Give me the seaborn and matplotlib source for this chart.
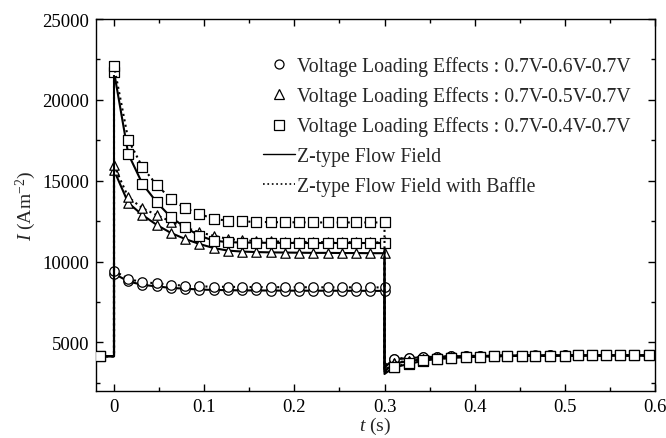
import numpy as np
import pandas as pd
import matplotlib
matplotlib.use("Agg")
import matplotlib.pyplot as plt
from matplotlib.lines import Line2D
from matplotlib.ticker import MultipleLocator
import seaborn as sns

sns.set_theme(style="ticks")
plt.rcParams['font.family'] = ['Liberation Serif', 'DejaVu Serif']
plt.rcParams['mathtext.fontset'] = 'custom'
plt.rcParams['mathtext.rm'] = 'Liberation Serif'
plt.rcParams['mathtext.it'] = 'Liberation Serif:italic'

# ---------------- data ----------------
t_pre = -0.015
I_pre = 4150

t_first = [0.0, 0.0158, 0.0316, 0.0474, 0.0632, 0.0789, 0.0947, 0.1105, 0.1263, 0.1421,
           0.1579, 0.1737, 0.1895, 0.2053, 0.2211, 0.2368, 0.2526, 0.2684, 0.2842, 0.3]
t_second = [0.310, 0.327, 0.343, 0.358, 0.374, 0.390, 0.406, 0.421, 0.436, 0.452,
            0.467, 0.483, 0.500, 0.515, 0.530, 0.546, 0.561, 0.577, 0.593]

# 0.7V-0.6V-0.7V (circles)
circ_solid_1 = [9250, 8780, 8560, 8470, 8370, 8330, 8270, 8250, 8230, 8220,
                8215, 8210, 8205, 8200, 8200, 8200, 8195, 8195, 8190, 8190]
circ_dot_1 = [9440, 8930, 8720, 8660, 8570, 8510, 8470, 8450, 8440, 8430,
              8425, 8420, 8420, 8415, 8415, 8410, 8410, 8410, 8405, 8405]
circ_solid_dip, circ_dot_dip = 3450, 3550
circ_solid_2 = [3960, 4030, 4090, 4120, 4140, 4160, 4170, 4180, 4185, 4190,
                4190, 4195, 4195, 4200, 4200, 4200, 4200, 4200, 4200]
circ_dot_2 = [3990, 4050, 4100, 4130, 4150, 4165, 4175, 4185, 4190, 4190,
              4195, 4195, 4200, 4200, 4200, 4200, 4200, 4200, 4200]

# 0.7V-0.5V-0.7V (triangles)
tri_solid_1 = [15650, 13630, 12880, 12270, 11770, 11400, 11090, 10840, 10680, 10620,
               10590, 10570, 10560, 10550, 10540, 10540, 10530, 10530, 10520, 10520]
tri_dot_1 = [15950, 13980, 13300, 12880, 12470, 12120, 11810, 11600, 11400, 11320,
             11280, 11250, 11230, 11220, 11210, 11200, 11200, 11200, 11190, 11190]
tri_solid_dip, tri_dot_dip = 3200, 3300
tri_solid_2 = [3700, 3850, 3970, 4050, 4100, 4130, 4150, 4165, 4175, 4185,
               4190, 4190, 4195, 4195, 4200, 4200, 4200, 4200, 4200]
tri_dot_2 = [3730, 3880, 3990, 4060, 4110, 4140, 4155, 4170, 4180, 4185,
             4190, 4195, 4195, 4200, 4200, 4200, 4200, 4200, 4200]

# 0.7V-0.4V-0.7V (squares)
sq_solid_1 = [21750, 16660, 14800, 13670, 12740, 12120, 11600, 11300, 11200, 11180,
              11170, 11160, 11160, 11150, 11150, 11150, 11150, 11150, 11150, 11150]
sq_dot_1 = [22120, 17540, 15830, 14740, 13870, 13300, 12950, 12640, 12530, 12480,
            12460, 12440, 12430, 12430, 12420, 12420, 12420, 12420, 12420, 12420]
sq_solid_dip, sq_dot_dip = 3050, 3150
sq_solid_2 = [3460, 3670, 3870, 3980, 4040, 4090, 4120, 4140, 4160, 4170,
              4180, 4185, 4190, 4195, 4195, 4200, 4200, 4200, 4200]
sq_dot_2 = [3490, 3700, 3890, 3990, 4050, 4095, 4125, 4145, 4160, 4170,
            4180, 4185, 4190, 4195, 4200, 4200, 4200, 4200, 4200]

labels = ["Voltage Loading Effects : 0.7V-0.6V-0.7V",
          "Voltage Loading Effects : 0.7V-0.5V-0.7V",
          "Voltage Loading Effects : 0.7V-0.4V-0.7V",
          "Z-type Flow Field",
          "Z-type Flow Field with Baffle"]

curves = [
    ("o", "-", circ_solid_1, circ_solid_dip, circ_solid_2),
    ("o", ":", circ_dot_1, circ_dot_dip, circ_dot_2),
    ("^", "-", tri_solid_1, tri_solid_dip, tri_solid_2),
    ("^", ":", tri_dot_1, tri_dot_dip, tri_dot_2),
    ("s", "-", sq_solid_1, sq_solid_dip, sq_solid_2),
    ("s", ":", sq_dot_1, sq_dot_dip, sq_dot_2),
]

# ---------------- figure ----------------
fig = plt.figure(figsize=(6.66, 4.39), dpi=100)
ax = fig.add_axes([0.1441, 0.1071, 0.8394, 0.8473])

z = 2
for marker, ls, first, dip, second in curves:
    lx = [t_pre, t_first[0]] + t_first + [t_first[-1]] + t_second
    ly = [I_pre, I_pre] + first + [dip] + second
    df_line = pd.DataFrame({"t": lx, "I": ly})
    sns.lineplot(data=df_line, x="t", y="I", ax=ax, sort=False, estimator=None,
                 color="black", linestyle=ls, linewidth=1.5, zorder=z)
    mx = [t_pre] + t_first + t_second
    my = [I_pre] + first + second
    df_m = pd.DataFrame({"t": mx, "I": my})
    sns.scatterplot(data=df_m, x="t", y="I", ax=ax, marker=marker, s=46,
                    facecolor="white", edgecolor="black", linewidth=0.9,
                    zorder=z + 1)
    z += 2

ax.set_xlim(-0.02, 0.6)
ax.set_ylim(2000, 25000)
ax.xaxis.set_minor_locator(MultipleLocator(0.05))
ax.yaxis.set_minor_locator(MultipleLocator(2500))
ax.set_xticks([0, 0.1, 0.2, 0.3, 0.4, 0.5, 0.6])
ax.set_xticklabels(["0", "0.1", "0.2", "0.3", "0.4", "0.5", "0.6"])
ax.set_yticks([5000, 10000, 15000, 20000, 25000])
ax.set_yticklabels(["5000", "10000", "15000", "20000", "25000"])
ax.tick_params(which="both", direction="in", top=True, right=True,
               colors="black", labelsize=13.5, pad=5)
ax.tick_params(which="major", length=5, width=1)
ax.tick_params(which="minor", length=3, width=1)
for sp in ax.spines.values():
    sp.set_color("black")
    sp.set_linewidth(1.0)

ax.set_xlabel(r"$t$ (s)", fontsize=14, labelpad=0)
ax.set_ylabel(r"$I$ (Am$^{-2}$)", fontsize=14, labelpad=3)

mk = dict(linestyle="none", markersize=6.5, markerfacecolor="white",
          markeredgecolor="black", markeredgewidth=0.9)
handles = [
    Line2D([], [], marker="o", **mk),
    Line2D([], [], marker="^", **mk),
    Line2D([], [], marker="s", **mk),
    Line2D([], [], linestyle="-", color="black", linewidth=1.0),
    Line2D([], [], linestyle=":", color="black", linewidth=1.2),
]
ax.legend(handles, labels, loc="upper left", bbox_to_anchor=(0.2987, 0.90),
          frameon=False, fontsize=14.2, handlelength=1.65, handletextpad=0.1,
          labelspacing=0.52, borderpad=0, borderaxespad=0)

fig.savefig("out.png", dpi=100)
